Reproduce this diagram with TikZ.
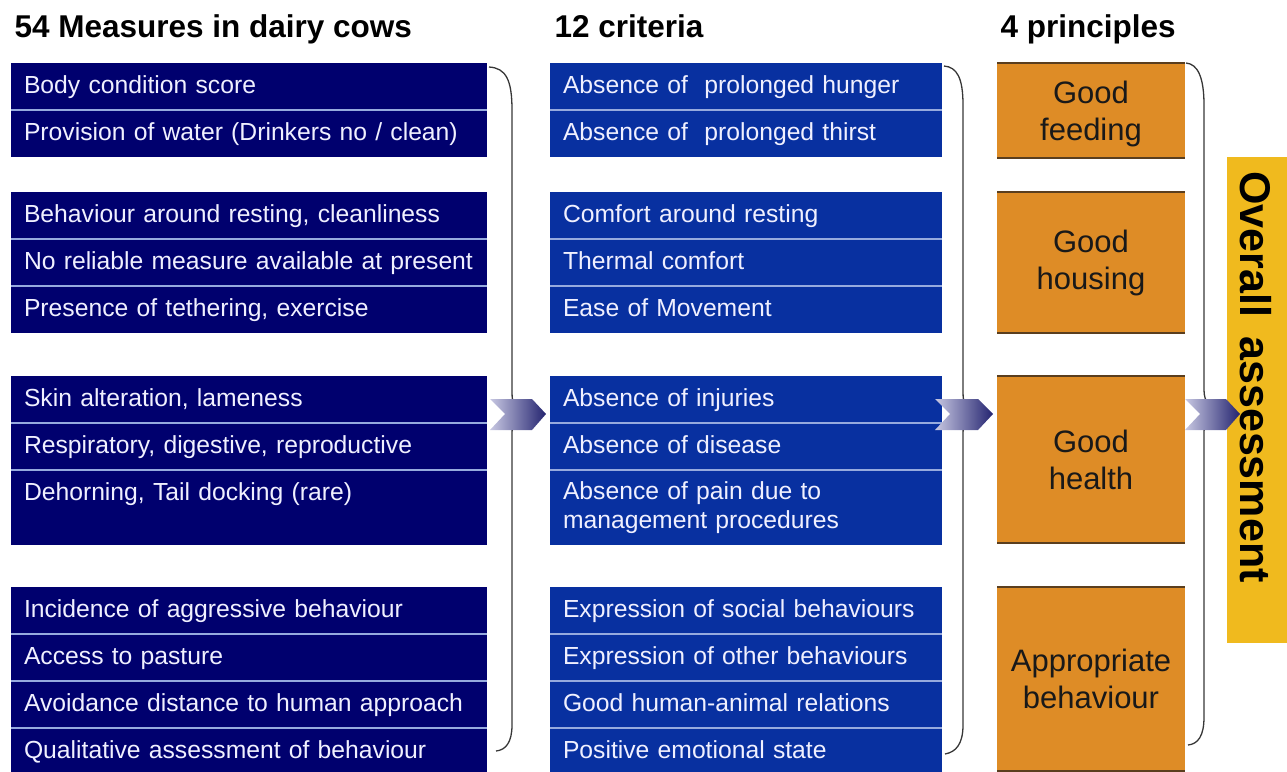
\documentclass[tikz,border=0pt]{standalone}
\usepackage{fontspec}
\setmainfont{Liberation Sans}
\usetikzlibrary{positioning}

\definecolor{measnavy}{RGB}{0,0,110}
\definecolor{critblue}{RGB}{8,48,160}
\definecolor{rowline}{RGB}{150,170,222}
\definecolor{princorange}{RGB}{222,140,38}
\definecolor{princedge}{RGB}{90,62,30}
\definecolor{overallyellow}{RGB}{240,186,30}
\definecolor{chevlight}{RGB}{200,200,226}
\definecolor{chevdark}{RGB}{36,36,112}
\definecolor{bracegrey}{RGB}{55,55,55}

\tikzset{
  row/.style={anchor=north west, outer sep=0pt, inner xsep=13pt, text width=450pt, align=left,
    minimum height=47pt, text height=18pt, text depth=5pt, text=white!94!blue,
    font=\fontsize{24.7}{29.6}\selectfont},
  meas/.style={row, fill=measnavy},
  crit/.style={row, fill=critblue, text width=366pt},
  princ/.style={anchor=north west, outer sep=0pt, fill=princorange, minimum width=188pt,
    text width=180pt, align=center, text=black!90, font=\fontsize{31}{37}\selectfont},
  heading/.style={anchor=base west, font=\fontsize{31.5}{38}\selectfont\bfseries},
  sepline/.style={rowline, line width=1.5pt},
  pedge/.style={princedge, line width=1.5pt},
  curly/.style={bracegrey, line width=1.3pt},
}

\begin{document}
\begin{tikzpicture}[x=1pt, y=-1pt]
\useasboundingbox (0,0) rectangle (1287,771);

% headings
\node[heading] (hmeas) at (11,37) {54 Measures in dairy cows};
\node[heading] (hcrit) at (551,37) {12 criteria};
\node[heading] (hprinc) at (997,37) {4 principles};

% measures
\node[meas] (m1) at (11,63) {Body condition score};
\node[meas, below=0pt of m1] (m2) {Provision of water (Drinkers no / clean)};
\node[meas] (m3) at (11,192) {Behaviour around resting, cleanliness};
\node[meas, below=0pt of m3] (m4) {No reliable measure available at present};
\node[meas, below=0pt of m4] (m5) {Presence of tethering, exercise};
\node[meas] (m6) at (11,376) {Skin alteration, lameness};
\node[meas, below=0pt of m6] (m7) {Respiratory, digestive, reproductive};
\node[meas, below=0pt of m7] (m8) {Dehorning, Tail docking (rare)};
\fill[measnavy] (m8.south west) rectangle ++(476,28);
\node[meas] (m9) at (11,587) {Incidence of aggressive behaviour};
\node[meas, below=0pt of m9] (m10) {Access to pasture};
\node[meas, below=0pt of m10] (m11) {Avoidance distance to human approach};
\node[meas, below=0pt of m11] (m12) {Qualitative assessment of behaviour};

% criteria
\node[crit] (c1) at (550,63) {Absence of\ \ prolonged hunger};
\node[crit, below=0pt of c1] (c2) {Absence of\ \ prolonged thirst};
\node[crit] (c3) at (550,192) {Comfort around resting};
\node[crit, below=0pt of c3] (c4) {Thermal comfort};
\node[crit, below=0pt of c4] (c5) {Ease of Movement};
\node[crit] (c6) at (550,376) {Absence of injuries};
\node[crit, below=0pt of c6] (c7) {Absence of disease};
\node[crit, below=0pt of c7, minimum height=75pt, text depth=34.6pt] (c8) {Absence of pain due to\\management procedures};
\node[crit] (c9) at (550,587) {Expression of social behaviours};
\node[crit, below=0pt of c9] (c10) {Expression of other behaviours};
\node[crit, below=0pt of c10] (c11) {Good human-animal relations};
\node[crit, below=0pt of c11] (c12) {Positive emotional state};

\foreach \n in {m1,m3,m4,m6,m7,m9,m10,m11,c1,c3,c4,c6,c7,c9,c10,c11}
  \draw[sepline] (\n.south west) -- (\n.south east);

% principles
\node[princ, minimum height=95pt, text height=30pt] (p1) at (997,63) {Good\\feeding};
\node[princ, minimum height=141pt] (p2) at (997,192) {Good\\housing};
\node[princ, minimum height=167pt] (p3) at (997,376) {Good\\health};
\node[princ, minimum height=184pt] (p4) at (997,587) {Appropriate\\behaviour};
\foreach \n in {p1,p2,p3,p4}{
  \draw[pedge] (\n.north west) -- (\n.north east);
  \draw[pedge] (\n.south west) -- (\n.south east);
}

% overall
\node[fill=overallyellow, anchor=north west, inner sep=0pt, minimum width=60pt, minimum height=486pt] (assess) at (1227,157) {};
\node[rotate=-90, font=\fontsize{43}{50}\selectfont\bfseries] (overall) at (1256,377) {Overall\hspace{0.45em}assessment};

% braces
\draw[curly] (489,67) .. controls (506,68) and (512,80) .. (512,110) -- (512,392)
  .. controls (512,404) and (515,409) .. (519,413) .. controls (515,417) and (512,422) .. (512,434)
  -- (512,725) .. controls (512,742) and (506,750) .. (496,751);
\draw[curly] (944,66) .. controls (957,67) and (963,78) .. (963,105) -- (963,392)
  .. controls (963,404) and (966,409) .. (970,413) .. controls (966,417) and (963,422) .. (963,434)
  -- (963,725) .. controls (963,744) and (956,752) .. (945,754);
\draw[curly] (1186,63) .. controls (1198,64) and (1204,78) .. (1204,105) -- (1204,390)
  .. controls (1204,402) and (1210,407) .. (1216,410) .. controls (1210,414) and (1204,420) .. (1204,432)
  -- (1204,717) .. controls (1204,736) and (1198,744) .. (1188,745);

% arrows
\shade[left color=chevlight, right color=chevdark] (490,399) -- (532,399) -- (546,414) -- (532,430) -- (490,430) -- (505,414) -- cycle;
\shade[left color=chevlight, right color=chevdark] (935,399) -- (978,399) -- (993,414) -- (978,430) -- (935,430) -- (950,414) -- cycle;
\shade[left color=chevlight, right color=chevdark] (1185,399) -- (1226,399) -- (1240,414) -- (1226,430) -- (1185,430) -- (1200,414) -- cycle;
\end{tikzpicture}
\end{document}
